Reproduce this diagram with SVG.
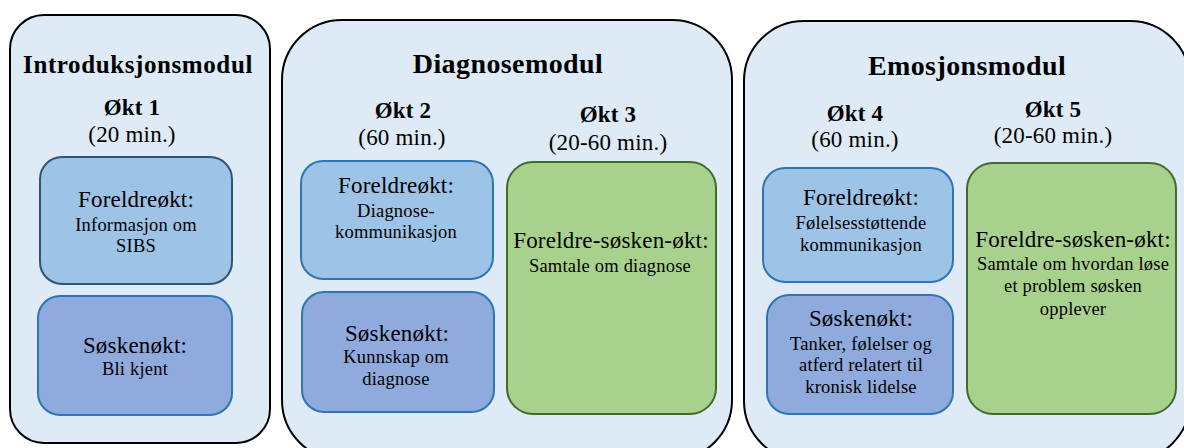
<svg xmlns="http://www.w3.org/2000/svg" width="1184" height="448" viewBox="0 0 1184 448">
<style>
.mod{fill:#deebf6;stroke:#000;stroke-width:2}
.par{fill:#9dc3e6;stroke:#2e75b6;stroke-width:2}
.par1{fill:#9dc3e6;stroke:#2f5573;stroke-width:2}
.sib{fill:#8faadc;stroke:#2e75b6;stroke-width:2}
.joint{fill:#a9d18e;stroke:#416b28;stroke-width:2}
text{font-family:"Liberation Serif","Times New Roman",serif;fill:#000;text-anchor:middle}
.mt{font-weight:bold;font-size:28px;letter-spacing:0.4px}
.ok{font-weight:bold;font-size:23px;letter-spacing:0.2px}
.dur{font-size:23px;letter-spacing:0.2px}
.bt{font-size:23px;letter-spacing:0.2px}
.st{font-size:18.5px;letter-spacing:0.2px}
</style>
<rect width="1184" height="448" fill="#fff"/>
<g id="introduksjonsmodul">
<rect class="mod" x="10" y="15" width="260" height="428" rx="34"/>
<text class="mt" x="138" y="73" style="font-size:25px;letter-spacing:0.6px">Introduksjonsmodul</text>
<text class="ok" x="132" y="115">Økt 1</text>
<text class="dur" x="132" y="142">(20 min.)</text>
</g>
<g id="okt1-foreldre">
<rect class="par1" x="40" y="157" width="192" height="127" rx="22"/>
<text class="bt" x="136" y="207">Foreldreøkt:</text>
<text class="st" x="136" y="231">Informasjon om</text>
<text class="st" x="136" y="252">SIBS</text>
</g>
<g id="okt1-sosken">
<rect class="sib" x="38" y="296" width="194" height="119" rx="22"/>
<text class="bt" x="135" y="353">Søskenøkt:</text>
<text class="st" x="135" y="375">Bli kjent</text>
</g>
<g id="diagnosemodul">
<rect class="mod" x="282" y="20" width="450" height="440" rx="60"/>
<text class="mt" x="508" y="73">Diagnosemodul</text>
<text class="ok" x="403" y="118">Økt 2</text>
<text class="dur" x="402" y="145">(60 min.)</text>
<text class="ok" x="608" y="122">Økt 3</text>
<text class="dur" x="608" y="150">(20-60 min.)</text>
</g>
<g id="okt2-foreldre">
<rect class="par" x="301" y="161" width="192" height="118" rx="22"/>
<text class="bt" x="396" y="193">Foreldreøkt:</text>
<text class="st" x="396" y="217">Diagnose-</text>
<text class="st" x="396" y="238">kommunikasjon</text>
</g>
<g id="okt2-sosken">
<rect class="sib" x="302" y="292" width="192" height="120" rx="22"/>
<text class="bt" x="397" y="341">Søskenøkt:</text>
<text class="st" x="396" y="363">Kunnskap om</text>
<text class="st" x="396" y="385">diagnose</text>
</g>
<g id="okt3-foreldre-sosken">
<rect class="joint" x="507" y="162" width="209" height="252" rx="26"/>
<text class="bt" x="611" y="248">Foreldre-søsken-økt:</text>
<text class="st" x="610" y="272">Samtale om diagnose</text>
</g>
<g id="emosjonsmodul">
<rect class="mod" x="744" y="21" width="446" height="440" rx="60"/>
<text class="mt" x="967" y="75">Emosjonsmodul</text>
<text class="ok" x="855" y="121">Økt 4</text>
<text class="dur" x="855" y="147">(60 min.)</text>
<text class="ok" x="1053" y="117">Økt 5</text>
<text class="dur" x="1053" y="143">(20-60 min.)</text>
</g>
<g id="okt4-foreldre">
<rect class="par" x="763" y="168" width="190" height="114" rx="22"/>
<text class="bt" x="861" y="205">Foreldreøkt:</text>
<text class="st" x="861" y="229">Følelsesstøttende</text>
<text class="st" x="861" y="251">kommunikasjon</text>
</g>
<g id="okt4-sosken">
<rect class="sib" x="767" y="295" width="186" height="119" rx="22"/>
<text class="bt" x="861" y="326">Søskenøkt:</text>
<text class="st" x="861" y="350">Tanker, følelser og</text>
<text class="st" x="861" y="371">atferd relatert til</text>
<text class="st" x="861" y="393">kronisk lidelse</text>
</g>
<g id="okt5-foreldre-sosken">
<rect class="joint" x="967" y="163" width="209" height="251" rx="26"/>
<text class="bt" x="1073" y="247">Foreldre-søsken-økt:</text>
<text class="st" x="1073" y="270">Samtale om hvordan løse</text>
<text class="st" x="1073" y="292">et problem søsken</text>
<text class="st" x="1073" y="315">opplever</text>
</g>
<g id="connectors"/>
</svg>
